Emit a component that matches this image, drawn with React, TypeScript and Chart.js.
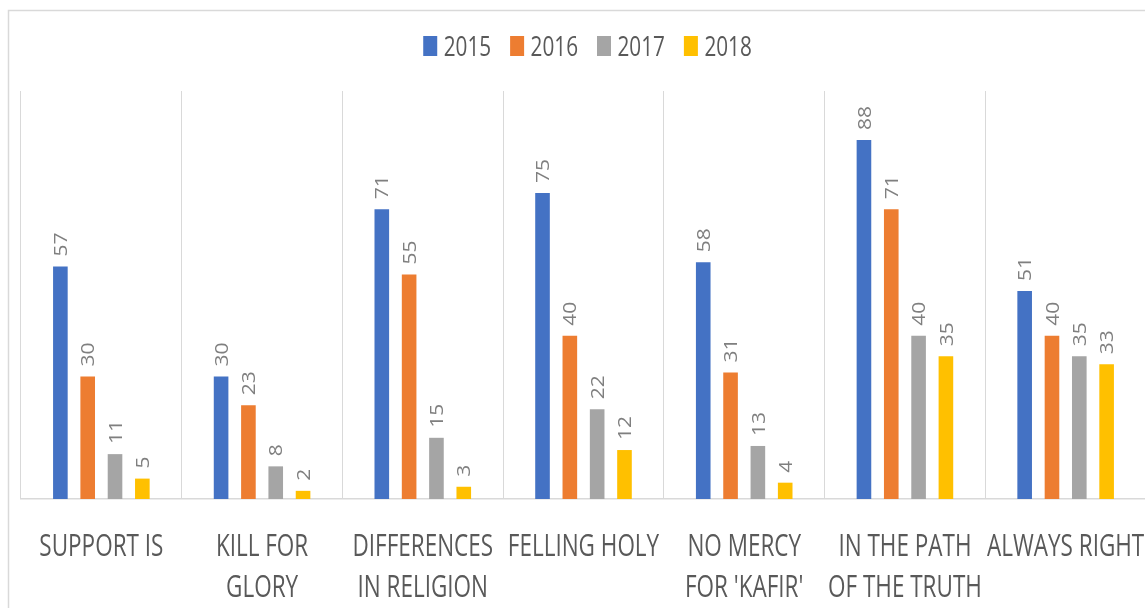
import React, { useEffect, useRef } from "react";
import { Chart, registerables } from "chart.js";

Chart.register(...registerables);

// ---- data ----
const categories: string[][] = [
  ["SUPPORT IS"],
  ["KILL FOR", "GLORY"],
  ["DIFFERENCES", "IN RELIGION"],
  ["FELLING HOLY"],
  ["NO MERCY", "FOR 'KAFIR'"],
  ["IN THE PATH", "OF THE TRUTH"],
  ["ALWAYS RIGHT"],
];
const seriesNames = ["2015", "2016", "2017", "2018"];
const values2015 = [57, 30, 71, 75, 58, 88, 51];
const values2016 = [30, 23, 55, 40, 31, 71, 40];
const values2017 = [11, 8, 15, 22, 13, 40, 35];
const values2018 = [5, 2, 3, 12, 4, 35, 33];
const seriesColors = ["#4472C4", "#ED7D31", "#A5A5A5", "#FFC000"];
const yMin = 0;
const yMax = 100;

// ---- layout ----
const W = 1170;
const H = 640;
const FONT = "'Open Sans', sans-serif";
const PLOT_LEFT = 21;
const PLOT_RIGHT = 1146;
const PLOT_TOP = 91;
const PLOT_BOTTOM = 499;

const decorPlugin = {
  id: "decor",
  beforeDraw(chart: any) {
    const ctx = chart.ctx as CanvasRenderingContext2D;
    ctx.save();
    ctx.fillStyle = "#ffffff";
    ctx.fillRect(0, 0, W, H);
    ctx.strokeStyle = "#d9d9d9";
    ctx.lineWidth = 1.5;
    ctx.strokeRect(8.5, 10.5, W + 20, H + 20);
    ctx.restore();
  },
  afterDatasetsDraw(chart: any) {
    const ctx = chart.ctx as CanvasRenderingContext2D;
    const size = 18.6;
    const capH = size * 0.714;
    chart.data.datasets.forEach((ds: any, di: number) => {
      const meta = chart.getDatasetMeta(di);
      meta.data.forEach((el: any, i: number) => {
        const v = ds.data[i];
        ctx.save();
        ctx.translate(el.x + capH / 2, el.y - 10);
        ctx.rotate(-Math.PI / 2);
        ctx.scale(1.13, 1);
        ctx.font = `${size}px ${FONT}`;
        ctx.fillStyle = "#7f7f7f";
        ctx.textAlign = "left";
        ctx.textBaseline = "alphabetic";
        ctx.fillText(String(v), 0, 0);
        ctx.restore();
      });
    });
  },
  afterDraw(chart: any) {
    const ctx = chart.ctx as CanvasRenderingContext2D;
    const xs = chart.scales.x;
    const bottom = chart.chartArea.bottom;
    // category labels
    categories.forEach((lines, i) => {
      const cx = xs.getPixelForValue(i);
      lines.forEach((line, li) => {
        ctx.save();
        ctx.translate(cx, bottom + 57 + li * 40.5);
        ctx.scale(0.74, 1);
        ctx.font = `30.4px ${FONT}`;
        ctx.fillStyle = "#595959";
        ctx.textAlign = "center";
        ctx.textBaseline = "alphabetic";
        ctx.fillText(line, 0, 0);
        ctx.restore();
      });
    });
    // legend
    const sx = 0.74;
    const lsize = 28;
    ctx.save();
    ctx.font = `${lsize}px ${FONT}`;
    const boxW = 14;
    const boxH = 20;
    const gap = 6.5;
    const spacing = 19;
    const widths = seriesNames.map((n) => ctx.measureText(n).width * sx);
    const total =
      widths.reduce((a, b) => a + b + boxW + gap, 0) + spacing * (seriesNames.length - 1);
    let x = 587.5 - total / 2;
    const top = 36;
    seriesNames.forEach((n, i) => {
      ctx.fillStyle = seriesColors[i];
      ctx.fillRect(x, top, boxW, boxH);
      ctx.save();
      ctx.translate(x + boxW + gap, top + boxH);
      ctx.scale(sx, 1);
      ctx.fillStyle = "#595959";
      ctx.textAlign = "left";
      ctx.textBaseline = "alphabetic";
      ctx.fillText(n, 0, 0);
      ctx.restore();
      x += boxW + gap + widths[i] + spacing;
    });
    ctx.restore();
  },
};

export default function App() {
  const ref = useRef<HTMLCanvasElement | null>(null);
  useEffect(() => {
    if (!ref.current) return;
    const seriesValues = [values2015, values2016, values2017, values2018];
    const chart = new Chart(ref.current, {
      type: "bar",
      data: {
        labels: categories.map((c) => c.join(" ")),
        datasets: seriesNames.map((name, i) => ({
          label: name,
          data: seriesValues[i],
          backgroundColor: seriesColors[i],
          borderWidth: 0,
          categoryPercentage: 0.68,
          barPercentage: 0.535,
        })),
      },
      options: {
        responsive: false,
        animation: false,
        devicePixelRatio: 1,
        layout: {
          padding: {
            left: PLOT_LEFT,
            top: PLOT_TOP,
            right: W - PLOT_RIGHT,
            bottom: H - PLOT_BOTTOM,
          },
        },
        plugins: {
          legend: { display: false },
          tooltip: { enabled: false },
        },
        scales: {
          x: {
            grid: {
              display: true,
              color: "#d9d9d9",
              lineWidth: 1,
              drawTicks: false,
              offset: true,
            },
            border: { display: true, color: "#d9d9d9", width: 1.5 },
            ticks: { display: false },
            afterFit: (s: any) => {
              s.height = 0;
            },
          },
          y: { display: false, min: yMin, max: yMax },
        },
      },
      plugins: [decorPlugin],
    } as any);
    let alive = true;
    (document as any).fonts
      ?.load(`30px 'Open Sans'`)
      .then(() => {
        if (alive) chart.draw();
      })
      .catch(() => {});
    return () => {
      alive = false;
      chart.destroy();
    };
  }, []);
  return (
    <div
      style={{
        position: "fixed",
        left: 0,
        top: 0,
        width: 1145,
        height: 608,
        overflow: "hidden",
        background: "#fff",
      }}
    >
      <canvas
        ref={ref}
        width={W}
        height={H}
        style={{ display: "block", width: W, height: H }}
      />
    </div>
  );
}
